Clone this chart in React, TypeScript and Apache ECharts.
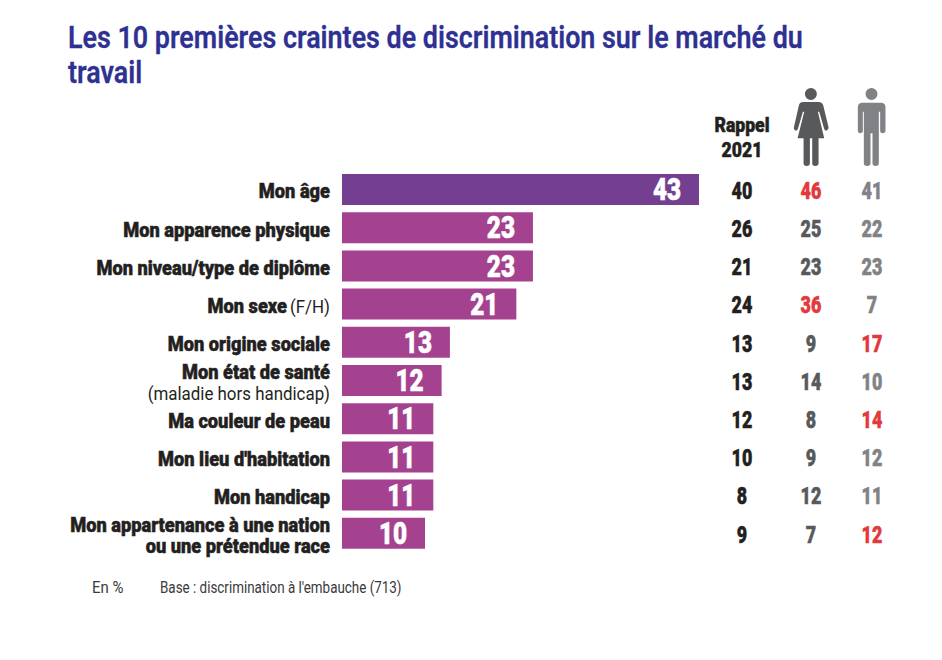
import React, { useEffect, useRef } from "react";
import * as echarts from "echarts";

const titleLines = ["Les 10 premières craintes de discrimination sur le marché du", "travail"];
const categories = [
  "Mon âge",
  "Mon apparence physique",
  "Mon niveau/type de diplôme",
  "Mon sexe|(F/H)",
  "Mon origine sociale",
  "Mon état de santé\n|(maladie hors handicap)",
  "Ma couleur de peau",
  "Mon lieu d'habitation",
  "Mon handicap",
  "Mon appartenance à une nation\nou une prétendue race",
];
const overall = [43, 23, 23, 21, 13, 12, 11, 11, 11, 10];
const rappel2021 = [40, 26, 21, 24, 13, 13, 12, 10, 8, 9];
const femmes = [46, 25, 23, 36, 9, 14, 8, 9, 12, 7];
const hommes = [41, 22, 23, 7, 17, 10, 14, 12, 11, 12];
const femmesHigh = [0, 3];
const hommesHigh = [4, 6, 9];
const rappelHeader = ["Rappel", "2021"];
const noteLeft = "En %";
const noteRight = "Base : discrimination à l'embauche (713)";

const FONT = "Roboto, sans-serif";
const INK = "#231f20";
const RED = "#e1393c";
const GRID_TOP = 170.4;
const GRID_H = 382;

const WOMAN =
  "M351 42A18 18 0 1 1 315 42A18 18 0 1 1 351 42Z M310 66L356 66Q366 66 370 76L386 142Q387 150 380 152Q375 153 373 147L358 95L354 95L373 175L356 175L356 250Q356 258 346 258Q337 258 337 250L337 175L330 175L330 250Q330 258 320 258Q311 258 311 250L311 175L293 175L313 95L309 95L294 147Q291 153 286 152Q280 150 282 142L297 76Q300 66 310 66Z";
const MAN =
  "M533 42A18 18 0 1 1 497 42A18 18 0 1 1 533 42Z M488 68L543 68Q557 68 557 82L557 152Q557 160 549 160Q541 160 541 152L541 95L537 95L537 250Q537 258 527 258Q518 258 518 250L518 160L512 160L512 250Q512 258 502 258Q492 258 492 250L492 95L489 95L489 152Q489 160 481 160Q474 160 474 152L474 82Q474 68 488 68Z";
echarts.graphic.registerShape("iconWoman", echarts.graphic.extendPath(WOMAN, {}));
echarts.graphic.registerShape("iconMan", echarts.graphic.extendPath(MAN, {}));

function richLabel(v: string) {
  const [strong, light] = v.split("|");
  const head = strong
    .split("\n")
    .filter((s) => s)
    .map((s) => `{b|${s}}`)
    .join("\n");
  if (!light) return head;
  return strong.includes("\n") ? `${head}\n{r|${light}}` : `${head} {r|${light}}`;
}

function categorySeries() {
  return {
    type: "custom",
    xAxisIndex: 0,
    yAxisIndex: 0,
    silent: true,
    clip: false,
    data: categories.map((_, i) => [0, i]),
    renderItem: (params: any, api: any) => {
      const p = api.coord([0, params.dataIndex]);
      return {
        type: "text",
        x: p[0] - 12,
        y: p[1] + 2,
        scaleX: 0.89,
        style: {
          text: richLabel(categories[params.dataIndex]),
          align: "right",
          verticalAlign: "middle",
          rich: {
            b: {
              fontFamily: FONT,
              fontWeight: 900,
              fontSize: 20.5,
              lineHeight: 21,
              fill: INK,
              stroke: INK,
              lineWidth: 0.5,
              align: "right",
            },
            r: { fontFamily: FONT, fontWeight: 400, fontSize: 19, lineHeight: 21, fill: INK, align: "right" },
          },
        },
      };
    },
  };
}

function barValueSeries() {
  return {
    type: "custom",
    xAxisIndex: 0,
    yAxisIndex: 0,
    silent: true,
    z: 5,
    data: overall.map((v, i) => [v, i]),
    renderItem: (params: any, api: any) => {
      const p = api.coord([api.value(0), params.dataIndex]);
      return {
        type: "text",
        x: p[0] - 32,
        y: p[1],
        scaleX: 0.76,
        style: {
          text: String(overall[params.dataIndex]),
          align: "center",
          verticalAlign: "middle",
          fontFamily: FONT,
          fontWeight: 900,
          fontSize: 32,
          fill: "#ffffff",
          stroke: "#ffffff",
          lineWidth: 0.6,
        },
      };
    },
  };
}

function columnSeries(idx: number, values: number[], color: string, high: number[]) {
  return {
    type: "custom",
    xAxisIndex: idx,
    yAxisIndex: idx,
    silent: true,
    clip: false,
    data: values.map((v, i) => [0, i]),
    renderItem: (params: any, api: any) => {
      const i = params.dataIndex;
      const p = api.coord([0, i]);
      const fill = high.includes(i) ? RED : color;
      return {
        type: "text",
        x: p[0],
        y: p[1] + 1.5,
        scaleX: 0.78,
        style: {
          text: String(values[i]),
          align: "center",
          verticalAlign: "middle",
          fontFamily: FONT,
          fontWeight: 900,
          fontSize: 23,
          fill,
          stroke: fill,
          lineWidth: 0.5,
        },
      };
    },
  };
}

function fixedText(
  text: string,
  x: number,
  y: number,
  size: number,
  weight: number,
  fill: string,
  scaleX: number,
  align = "left",
  lineWidth = 0,
) {
  return {
    type: "text",
    x,
    y,
    scaleX,
    style: {
      text,
      align,
      verticalAlign: "middle",
      fontFamily: FONT,
      fontWeight: weight,
      fontSize: size,
      fill,
      stroke: lineWidth ? fill : undefined,
      lineWidth,
    },
  };
}

export default function App() {
  const ref = useRef<HTMLDivElement>(null);
  useEffect(() => {
    const chart = echarts.init(ref.current!, null, { renderer: "svg" });
    const centers = [742, 811, 872];
    const colGrids = centers.map((c) => ({ left: c - 15, width: 30, top: GRID_TOP, height: GRID_H }));
    const hiddenX = (gridIndex: number) => ({ type: "value", gridIndex, min: -1, max: 1, show: false });
    const hiddenY = (gridIndex: number) => ({
      type: "category",
      gridIndex,
      inverse: true,
      show: false,
      data: categories,
    });
    chart.setOption({
      animation: false,
      backgroundColor: "#ffffff",
      grid: [{ left: 342, width: 357, top: GRID_TOP, height: GRID_H }, ...colGrids],
      xAxis: [
        { type: "value", gridIndex: 0, min: 0, max: 43, show: false },
        hiddenX(1),
        hiddenX(2),
        hiddenX(3),
      ],
      yAxis: [
        {
          type: "category",
          gridIndex: 0,
          inverse: true,
          data: categories,
          axisLine: { show: false },
          axisTick: { show: false },
          axisLabel: { show: false },
        },
        hiddenY(1),
        hiddenY(2),
        hiddenY(3),
      ],
      series: [
        {
          type: "bar",
          xAxisIndex: 0,
          yAxisIndex: 0,
          barWidth: 31,
          data: overall.map((v, i) => ({
            value: v,
            itemStyle: { color: i === 0 ? "#753f91" : "#a54290" },
          })),
        },
        categorySeries(),
        barValueSeries(),
        columnSeries(1, rappel2021, INK, []),
        columnSeries(2, femmes, "#58595b", femmesHigh),
        columnSeries(3, hommes, "#808285", hommesHigh),
      ],
      graphic: [
        fixedText(titleLines[0], 68, 37, 31, 600, "#2e3192", 0.867, "left", 0.3),
        fixedText(titleLines[1], 68, 72, 31, 600, "#2e3192", 0.867, "left", 0.3),
        { type: "iconWoman", x: 700, y: 80, scaleX: 1 / 3, scaleY: 1 / 3, style: { fill: "#58595b" } },
        { type: "iconMan", x: 700, y: 80, scaleX: 1 / 3, scaleY: 1 / 3, style: { fill: "#808285" } },
        fixedText(rappelHeader[0], 742, 125, 20.5, 900, INK, 0.86, "center", 0.5),
        fixedText(rappelHeader[1], 742, 150, 20.5, 900, INK, 0.86, "center", 0.5),
        fixedText(noteLeft, 92, 587, 17, 400, "#3a3a3c", 0.88),
        fixedText(noteRight, 160, 587, 17, 400, "#3a3a3c", 0.79),
      ],
    });
    return () => chart.dispose();
  }, []);
  return <div ref={ref} style={{ position: "absolute", left: 0, top: 0, width: 942, height: 660 }} />;
}
